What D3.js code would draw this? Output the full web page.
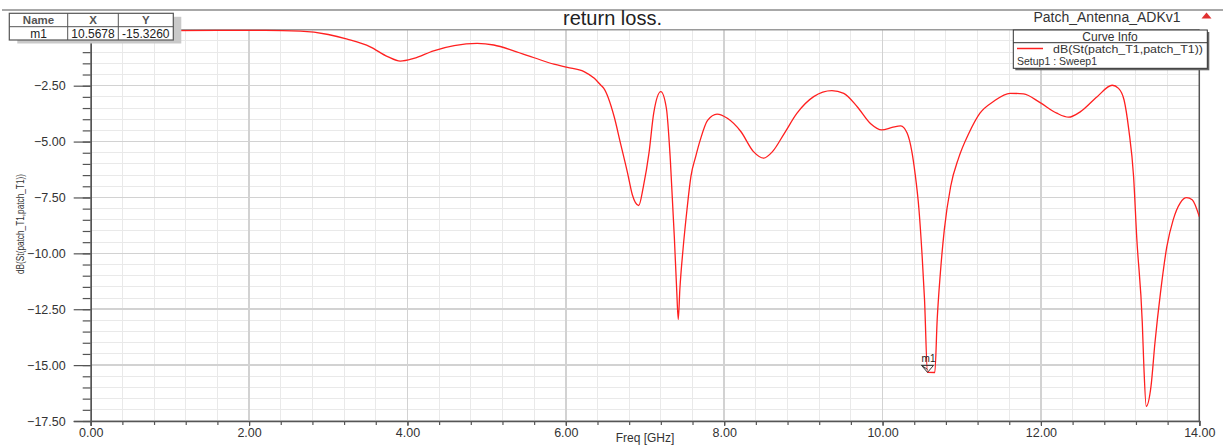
<!DOCTYPE html>
<html>
<head>
<meta charset="utf-8">
<script src="https://cdnjs.cloudflare.com/ajax/libs/d3/7.8.5/d3.min.js"></script>
<style>
body { margin: 0; background: #fff; }
svg { display: block; font-family: "Liberation Sans", Arial, sans-serif; }
.axis path, .axis line { stroke: #555; }
.axis text { fill: #333; font-size: 12.5px; }
</style>
</head>
<body>
<div id="chart"></div>
<script>
// sweep: frequency (GHz) and dB(S11)
var freq = [0.0, 0.8, 1.6, 2.2, 2.65, 3.0, 3.24, 3.53, 3.75, 3.91, 4.08, 4.33, 4.59, 4.88, 5.09, 5.35, 5.60, 5.85,
    6.02, 6.23, 6.36, 6.44, 6.48, 6.61, 6.69, 6.78, 6.84, 6.92, 6.98, 7.05, 7.11, 7.20, 7.27, 7.32, 7.37, 7.40,
    7.42, 7.44, 7.48, 7.53, 7.58, 7.64, 7.70, 7.79, 7.91, 8.04, 8.21, 8.37, 8.50, 8.61, 8.76, 8.92, 9.13, 9.36,
    9.51, 9.68, 9.85, 9.99, 10.12, 10.23, 10.31, 10.37, 10.41, 10.46, 10.50, 10.53, 10.5678, 10.66, 10.69, 10.73,
    10.78, 10.86, 10.96, 11.09, 11.23, 11.40, 11.61, 11.78, 11.99, 12.20, 12.35, 12.50, 12.71, 12.90, 12.98,
    13.05, 13.11, 13.17, 13.21, 13.28, 13.30, 13.33, 13.39, 13.44, 13.51, 13.59, 13.67, 13.76, 13.84, 13.91, 14.0];
var dbS11 = [-0.05, -0.04, -0.03, -0.03, -0.06, -0.21, -0.42, -0.76, -1.20, -1.40, -1.28, -0.94, -0.71, -0.61, -0.68, -0.95, -1.25, -1.54,
    -1.68, -1.87, -2.17, -2.47, -2.62, -3.88, -5.07, -6.41, -7.38, -7.86, -7.0, -5.52, -3.73, -2.77, -3.51, -5.82, -9.24, -11.62,
    -12.96, -11.62, -9.83, -8.05, -6.56, -5.67, -4.90, -4.05, -3.77, -3.96, -4.55, -5.45, -5.74, -5.45, -4.63, -3.73, -2.99, -2.72,
    -2.84, -3.44, -4.20, -4.48, -4.37, -4.30, -4.62, -5.45, -6.41, -8.05, -10.13, -12.07, -15.326, -15.33, -12.96, -10.88,
    -8.94, -7.01, -5.74, -4.63, -3.73, -3.21, -2.84, -2.87, -3.26, -3.73, -3.91, -3.66, -2.99, -2.48, -2.62,
    -3.14, -4.48, -6.56, -9.3, -13.1, -15.06, -16.84, -15.95, -14.0, -11.76, -9.7, -8.5, -7.74, -7.51, -7.6, -8.36];

var xTicks = [0, 2, 4, 6, 8, 10, 12, 14];
var yTicks = [-17.5, -15, -12.5, -10, -7.5, -5, -2.5];
var tableHead = ["Name", "X", "Y"];
var tableRow = ["m1", "10.5678", "-15.3260"];
var markerName = "m1", markerX = 10.5678, markerY = -15.326;

var W = 1223, H = 445;
var svg = d3.select("#chart").append("svg").attr("width", W).attr("height", H);

var x = d3.scaleLinear().domain([0, 14]).range([90.7, 1199.3]),
    y = d3.scaleLinear().domain([-17.5, 0]).range([421, 29.8]);

var x0 = x.range()[0], x1 = x.range()[1], y0 = y.range()[0], y1 = y.range()[1];

// grid
var xMinor = d3.range(0, 14.001, 0.4), yMinor = d3.range(-17.5, 0.001, 0.5);
var grid = svg.append("g").attr("class", "grid").attr("shape-rendering", "crispEdges");
grid.selectAll(".vx").data(xMinor).enter().append("line")
    .attr("x1", x).attr("x2", x).attr("y1", y1).attr("y2", y0)
    .attr("stroke", "#e9e9e9");
grid.selectAll(".hy").data(yMinor).enter().append("line")
    .attr("x1", x0).attr("x2", x1).attr("y1", y).attr("y2", y)
    .attr("stroke", "#e9e9e9");
grid.selectAll(".vX").data(xTicks).enter().append("line")
    .attr("x1", x).attr("x2", x).attr("y1", y1).attr("y2", y0)
    .attr("stroke", "#d2d2d2").attr("stroke-width", 1.5);
grid.selectAll(".hY").data(yTicks).enter().append("line")
    .attr("x1", x0).attr("x2", x1).attr("y1", y).attr("y2", y)
    .attr("stroke", "#d2d2d2").attr("stroke-width", 1.5);

// frame
svg.append("line").attr("x1", x0).attr("x2", x1).attr("y1", y1).attr("y2", y1)
    .attr("stroke", "#9a9a9a").attr("stroke-width", 1.5);
svg.append("line").attr("x1", x1).attr("x2", x1).attr("y1", y1).attr("y2", y0)
    .attr("stroke", "#555").attr("stroke-width", 1.5);
svg.append("line").attr("x1", 2).attr("x2", W).attr("y1", 10).attr("y2", 10)
    .attr("stroke", "#a8a8a8").attr("stroke-width", 2);

// curve
svg.append("defs").append("clipPath").attr("id", "clip")
    .append("rect").attr("x", x0).attr("y", y1 - 2).attr("width", x1 - x0).attr("height", y0 - y1 + 2);

var line = d3.line()
    .curve(d3.curveMonotoneX)
    .x(function(d, i) { return x(freq[i]); })
    .y(function(d) { return y(d); });

svg.append("path")
    .datum(dbS11)
    .attr("clip-path", "url(#clip)")
    .attr("fill", "none")
    .attr("stroke", "#ff2020")
    .attr("stroke-width", 1.3)
    .attr("d", line);

// axes
var yAxisMinor = d3.axisLeft(y).tickValues(yMinor).tickSize(8).tickFormat("");
var yAxis = d3.axisLeft(y).tickValues(yTicks).tickSize(17).tickPadding(8).tickFormat(d3.format(".2f"));
var xAxisMinor = d3.axisBottom(x).tickValues(xMinor).tickSize(4).tickFormat("");
var xAxis = d3.axisBottom(x).tickValues(xTicks).tickSize(5).tickPadding(2).tickFormat(d3.format(".2f"));

svg.append("g").attr("class", "axis").attr("transform", "translate(" + x0 + ",0)").call(yAxisMinor)
    .select(".domain").remove();
svg.append("g").attr("class", "axis").attr("transform", "translate(" + x0 + ",0)").call(yAxis)
    .select(".domain").attr("stroke-width", 1.6);
svg.append("g").attr("class", "axis").attr("transform", "translate(0," + y0 + ")").call(xAxisMinor)
    .select(".domain").remove();
svg.append("g").attr("class", "axis").attr("transform", "translate(0," + y0 + ")").call(xAxis)
    .select(".domain").attr("stroke-width", 1.6);
svg.selectAll(".axis .tick line").attr("stroke-width", 1.2);

svg.append("text")
    .attr("x", (x0 + x1) / 2).attr("y", 441.5)
    .attr("text-anchor", "middle").attr("font-size", "12px").attr("fill", "#333")
    .text("Freq [GHz]");

svg.append("text")
    .attr("transform", "translate(24," + 224 + ") rotate(-90)")
    .attr("text-anchor", "middle").attr("font-size", "10px").attr("fill", "#333")
    .attr("textLength", 100).attr("lengthAdjust", "spacingAndGlyphs")
    .text("dB(St(patch_T1,patch_T1))");

// titles
svg.append("text").attr("x", 612.5).attr("y", 25)
    .attr("text-anchor", "middle").attr("font-size", "20px").attr("fill", "#222")
    .text("return loss.");
svg.append("text").attr("x", 1107).attr("y", 22)
    .attr("text-anchor", "middle").attr("font-size", "14px").attr("fill", "#333")
    .text("Patch_Antenna_ADKv1");
svg.append("path").attr("d", "M1201.5,18.5 L1206.5,12.5 L1211.5,18.5 Z").attr("fill", "#e03030");

// marker
var mk = svg.append("g").attr("transform", "translate(" + x(markerX) + "," + y(markerY) + ")");
mk.append("path").attr("d", "M-6,-7 L6,-7 L0,0 Z M-6,-7 L0,-3")
    .attr("fill", "none").attr("stroke", "#333").attr("stroke-width", 1);
mk.append("text").attr("x", 1).attr("y", -10).attr("text-anchor", "middle")
    .attr("font-size", "10px").attr("fill", "#222").text(markerName);

// marker table
var colX = [9.3, 67.7, 118.3, 173.3], rowY = [13.3, 26.7, 40];
var tbl = svg.append("g");
tbl.append("rect").attr("x", colX[0] + 8).attr("y", rowY[0] + 3.5)
    .attr("width", colX[3] - colX[0]).attr("height", rowY[2] - rowY[0]).attr("fill", "#c9c9c9");
tbl.append("rect").attr("x", colX[0]).attr("y", rowY[0])
    .attr("width", colX[3] - colX[0]).attr("height", rowY[2] - rowY[0])
    .attr("fill", "#fff").attr("stroke", "#555").attr("stroke-width", 1.2);
tbl.append("line").attr("x1", colX[0]).attr("x2", colX[3]).attr("y1", rowY[1]).attr("y2", rowY[1])
    .attr("stroke", "#555");
tbl.selectAll(".col").data(colX.slice(1, 3)).enter().append("line")
    .attr("x1", function(d) { return d; }).attr("x2", function(d) { return d; })
    .attr("y1", rowY[0]).attr("y2", rowY[2]).attr("stroke", "#555");
tbl.selectAll(".th").data(tableHead).enter().append("text")
    .attr("x", function(d, i) { return (colX[i] + colX[i + 1]) / 2; })
    .attr("y", 24).attr("text-anchor", "middle").attr("font-size", "11.5px")
    .attr("font-weight", "bold").attr("fill", "#555")
    .text(function(d) { return d; });
tbl.selectAll(".td").data(tableRow).enter().append("text")
    .attr("x", function(d, i) { return (colX[i] + colX[i + 1]) / 2; })
    .attr("y", 37.5).attr("text-anchor", "middle").attr("font-size", "12px").attr("fill", "#222")
    .text(function(d) { return d; });

// curve info legend
var lg = svg.append("g");
lg.append("rect").attr("x", 1015.3).attr("y", 32).attr("width", 194).attr("height", 38.3).attr("fill", "#666");
lg.append("rect").attr("x", 1013.3).attr("y", 30).attr("width", 194).attr("height", 38.3)
    .attr("fill", "#fff").attr("stroke", "#333").attr("stroke-width", 1);
lg.append("line").attr("x1", 1013.3).attr("x2", 1207.3).attr("y1", 42.7).attr("y2", 42.7).attr("stroke", "#333");
lg.append("text").attr("x", 1110).attr("y", 40.5).attr("text-anchor", "middle")
    .attr("font-size", "12px").attr("fill", "#333").text("Curve Info");
lg.append("line").attr("x1", 1017).attr("x2", 1043).attr("y1", 48.5).attr("y2", 48.5)
    .attr("stroke", "#ff2020").attr("stroke-width", 1.5);
lg.append("text").attr("x", 1053).attr("y", 52.5)
    .attr("font-size", "10.5px").attr("fill", "#333")
    .attr("textLength", 150).attr("lengthAdjust", "spacingAndGlyphs")
    .text("dB(St(patch_T1,patch_T1))");
lg.append("text").attr("x", 1017).attr("y", 65)
    .attr("font-size", "10.5px").attr("fill", "#333").text("Setup1 : Sweep1");
</script>
</body>
</html>
